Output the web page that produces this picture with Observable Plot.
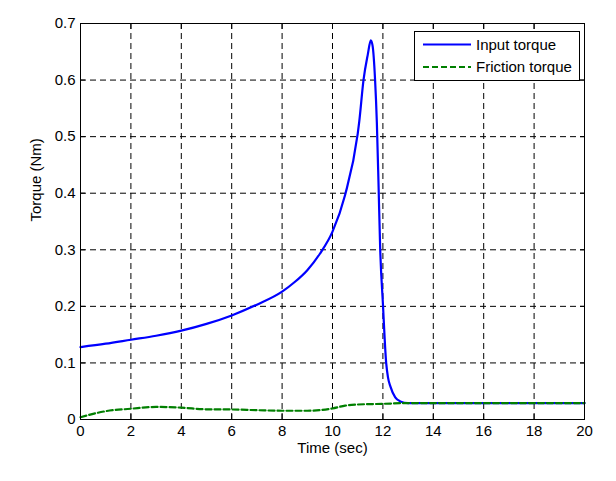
<!DOCTYPE html>
<html>
<head>
<meta charset="utf-8">
<script src="https://cdn.jsdelivr.net/npm/d3@7"></script>
<script src="https://cdn.jsdelivr.net/npm/@observablehq/plot@0.6"></script>
<style>
  html, body { margin: 0; padding: 0; background: #fff; }
</style>
</head>
<body>
<div id="chart"></div>
<script>
// Input torque (blue solid)
const inputTime = [0, 1, 2, 3, 4, 5, 6, 7, 8, 8.5, 9, 9.5, 10, 10.5, 11, 11.06, 11.23, 11.4, 11.52, 11.59, 11.69, 11.76, 11.83, 11.89, 12.0, 12.13, 12.2, 12.3, 12.49, 12.69, 13, 14, 16, 18, 20];
const inputTorque = [0.128, 0.134, 0.141, 0.148, 0.157, 0.169, 0.184, 0.203, 0.226, 0.243, 0.264, 0.293, 0.332, 0.397, 0.505, 0.526, 0.600, 0.645, 0.670, 0.661, 0.600, 0.525, 0.410, 0.305, 0.205, 0.100, 0.075, 0.058, 0.039, 0.032, 0.029, 0.029, 0.029, 0.029, 0.029];
// Friction torque (green dashed)
const frictionTime = [0, 0.32, 1, 2, 3, 4, 5, 6, 7, 8, 9, 9.5, 10, 10.5, 11, 12, 13, 14, 16, 18, 20];
const frictionTorque = [0.004, 0.008, 0.0147, 0.019, 0.0222, 0.021, 0.018, 0.0177, 0.0165, 0.0155, 0.0155, 0.0165, 0.0195, 0.0245, 0.0265, 0.0277, 0.029, 0.029, 0.029, 0.029, 0.029];

const xTicks = [0, 2, 4, 6, 8, 10, 12, 14, 16, 18, 20];
const yTicks = [0, 0.1, 0.2, 0.3, 0.4, 0.5, 0.6, 0.7];
const seriesNames = ["Input torque", "Friction torque"];
const seriesColors = ["#0000ff", "#007f00"];
const xLabel = "Time (sec)";
const yLabel = "Torque (Nm)";

const inputData = inputTime.map((t, i) => ({t, v: inputTorque[i]}));
const frictionData = frictionTime.map((t, i) => ({t, v: frictionTorque[i]}));
const fmt = d => String(+d.toFixed(1));
const FONT = "Arial, 'Liberation Sans', sans-serif";
const FS = 15;

const plot = Plot.plot({
  width: 616,
  height: 481,
  marginLeft: 80,
  marginRight: 32,
  marginTop: 23,
  marginBottom: 62,
  style: {fontSize: FS + "px", fontFamily: FONT, color: "black", background: "white"},
  x: {domain: [0, 20], ticks: xTicks},
  y: {domain: [0, 0.7], ticks: yTicks},
  marks: [
    Plot.gridX(xTicks.slice(1, -1), {stroke: "black", strokeOpacity: 1, strokeDasharray: "6,4"}),
    Plot.gridY(yTicks.slice(1, -1), {stroke: "black", strokeOpacity: 1, strokeDasharray: "6,4"}),
    Plot.axisX(xTicks, {anchor: "bottom", tickSize: 0, tickPadding: 6, tickFormat: fmt, fill: "black", fontSize: FS, label: null}),
    Plot.axisY(yTicks, {anchor: "left", tickSize: 0, tickPadding: 5, tickFormat: fmt, fill: "black", fontSize: FS, label: null}),
    Plot.axisX(xTicks, {anchor: "bottom", tickSize: -5, tickFormat: () => "", label: null, stroke: "black"}),
    Plot.axisX(xTicks, {anchor: "top", tickSize: -5, tickFormat: () => "", label: null, stroke: "black"}),
    Plot.axisY(yTicks, {anchor: "left", tickSize: -5, tickFormat: () => "", label: null, stroke: "black"}),
    Plot.axisY(yTicks, {anchor: "right", tickSize: -5, tickFormat: () => "", label: null, stroke: "black"}),
    Plot.line(inputData, {x: "t", y: "v", stroke: seriesColors[0], strokeWidth: 2.2, curve: "monotone-x"}),
    Plot.line(frictionData, {x: "t", y: "v", stroke: seriesColors[1], strokeWidth: 2.2, strokeDasharray: "6,3", curve: "monotone-x"}),
    Plot.frame({stroke: "black", strokeWidth: 1}),
    Plot.text([xLabel], {text: d => d, frameAnchor: "bottom", dy: 33, fontSize: FS, fill: "black"}),
    Plot.text([yLabel], {text: d => d, frameAnchor: "left", dx: -44, rotate: -90, fontSize: FS, fill: "black"})
  ]
});

// Legend inside the plot, top-right
const svg = d3.select(plot);
const lx = 414, ly = 31, lw = 165, lh = 49;
const g = svg.append("g").attr("font-family", FONT).attr("text-anchor", "start");
g.append("rect").attr("x", lx + 0.5).attr("y", ly + 0.5).attr("width", lw).attr("height", lh)
  .attr("fill", "white").attr("stroke", "black");
seriesNames.forEach((name, i) => {
  const yy = ly + 13.5 + i * 22.5;
  g.append("line").attr("x1", lx + 9).attr("x2", lx + 57).attr("y1", yy).attr("y2", yy)
    .attr("stroke", seriesColors[i]).attr("stroke-width", 2.2)
    .attr("stroke-dasharray", i === 1 ? "6,3" : null);
  g.append("text").attr("x", lx + 62).attr("y", yy).attr("dy", "0.35em")
    .attr("text-anchor", "start")
    .attr("font-size", FS).attr("fill", "black").text(name);
});

document.getElementById("chart").appendChild(plot);
</script>
</body>
</html>
